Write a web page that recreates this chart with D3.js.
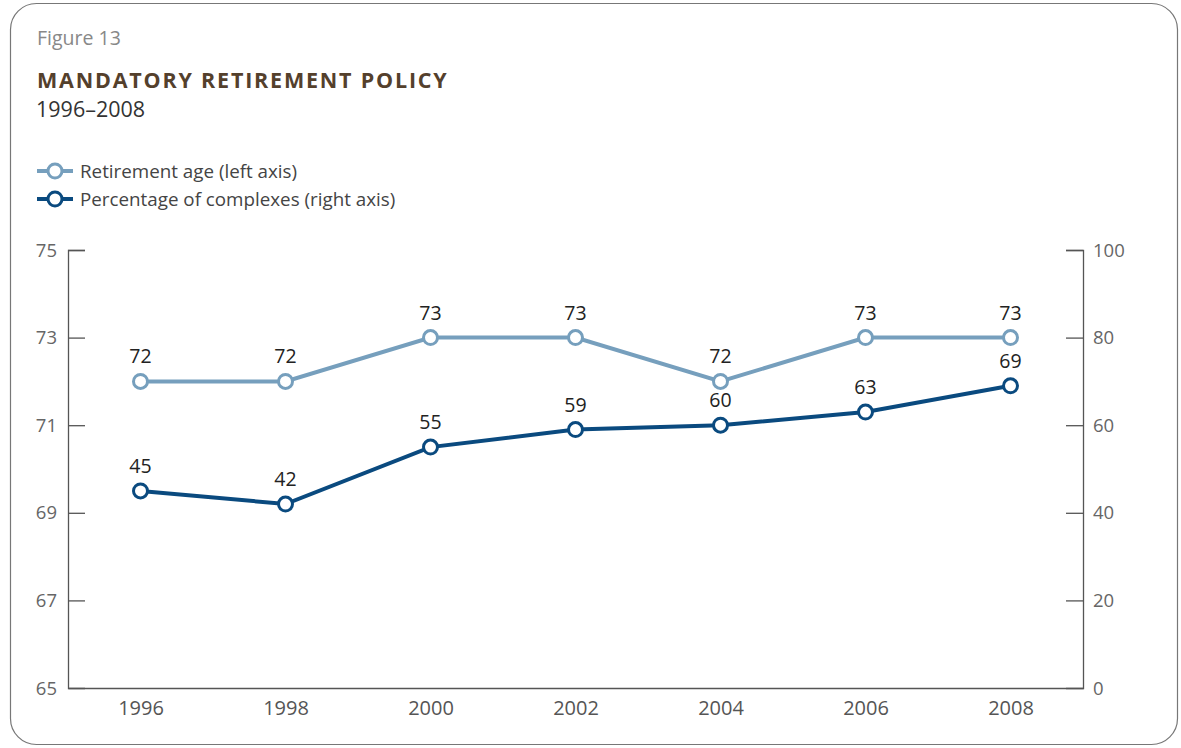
<!DOCTYPE html>
<html><head><meta charset="utf-8">
<script src="https://cdn.jsdelivr.net/npm/d3@7"></script>
<style>
body{margin:0;background:#fff;}
svg{display:block;font-family:"Open Sans",sans-serif;}
</style></head><body>
<svg id="chart" width="1181" height="748"></svg>
<script>
const years = ["1996","1998","2000","2002","2004","2006","2008"];
const retirementAge = [72,72,73,73,72,73,73];
const pctComplexes = [45,42,55,59,60,63,69];
const leftTicks = [65,67,69,71,73,75];
const rightTicks = [0,20,40,60,80,100];

const svg = d3.select("#chart");
const lightC = "#769fbd", darkC = "#0a4a7f";

svg.append("rect").attr("x",10.5).attr("y",3.5).attr("width",1167).attr("height",741)
  .attr("rx",26).attr("fill","none").attr("stroke","#777").attr("stroke-width",1.2);

svg.append("text").attr("x",37).attr("y",45).text("Figure 13")
  .attr("font-size",19.5).attr("fill","#888");
svg.append("text").attr("x",37).attr("y",88).text("MANDATORY RETIREMENT POLICY")
  .attr("font-size",21.5).attr("font-weight",700).attr("letter-spacing",1.8).attr("fill","#54402c");
svg.append("text").attr("x",36).attr("y",117).text("1996–2008")
  .attr("font-size",21.5).attr("fill","#333");

const legend = [{t:"Retirement age (left axis)",c:lightC,y:171},{t:"Percentage of complexes (right axis)",c:darkC,y:199}];
legend.forEach(l=>{
  svg.append("line").attr("x1",37).attr("x2",73).attr("y1",l.y).attr("y2",l.y).attr("stroke",l.c).attr("stroke-width",4);
  svg.append("circle").attr("cx",55).attr("cy",l.y).attr("r",7).attr("fill","#fff").attr("stroke",l.c).attr("stroke-width",3);
  svg.append("text").attr("x",80).attr("y",l.y+6.5).text(l.t).attr("font-size",18.8).attr("fill","#444");
});

const x0=68, x1=1083, yTop=250, yBot=688;
const x = d3.scalePoint().domain(years).range([x0,x1]).padding(0.5);
const yL = d3.scaleLinear().domain([65,75]).range([yBot,yTop]);
const yR = d3.scaleLinear().domain([0,100]).range([yBot,yTop]);

const axisColor="#555";
const gL = svg.append("g").attr("transform",`translate(${x0},0)`)
  .call(d3.axisRight(yL).tickValues(leftTicks).tickSize(17).tickFormat(""));
const gR = svg.append("g").attr("transform",`translate(${x1},0)`)
  .call(d3.axisLeft(yR).tickValues(rightTicks).tickSize(17).tickFormat(""));
[gL,gR].forEach(g=>{g.select(".domain").attr("stroke",axisColor).attr("stroke-width",1.3);
  g.selectAll(".tick line").attr("stroke",axisColor).attr("stroke-width",1.3);});
gL.selectAll(".tick").filter(d=>d===65).remove();
gR.selectAll(".tick").filter(d=>d===0).remove();

svg.selectAll(".lt").data(leftTicks).join("text").attr("class","lt")
  .attr("x",57).attr("y",d=>yL(d)+6.5).attr("text-anchor","end").attr("font-size",18.5).attr("fill","#666").text(d=>d);
svg.selectAll(".rt").data(rightTicks).join("text").attr("class","rt")
  .attr("x",1093).attr("y",d=>yR(d)+6.5).attr("text-anchor","start").attr("font-size",18.5).attr("fill","#666").text(d=>d);

const gX = svg.append("g").attr("transform",`translate(0,${yBot})`)
  .call(d3.axisBottom(x).tickSize(0).tickPadding(13));
gX.select(".domain").attr("stroke",axisColor).attr("stroke-width",1.3);
gX.selectAll("text").attr("font-size",20).attr("fill","#555").attr("font-family","Open Sans");

function series(vals, y, c){
  const data = years.map((yr,i)=>({yr,v:vals[i]}));
  svg.append("path").datum(data).attr("fill","none").attr("stroke",c).attr("stroke-width",4)
    .attr("d",d3.line().x(d=>x(d.yr)).y(d=>y(d.v)));
  svg.append("g").selectAll("circle").data(data).join("circle")
    .attr("cx",d=>x(d.yr)).attr("cy",d=>y(d.v)).attr("r",7).attr("fill","#fff").attr("stroke",c).attr("stroke-width",3);
  svg.append("g").selectAll("text").data(data).join("text")
    .attr("x",d=>x(d.yr)).attr("y",d=>y(d.v)-18).attr("text-anchor","middle")
    .attr("font-size",19.5).attr("fill","#222").text(d=>d.v);
}
series(retirementAge, yL, lightC);
series(pctComplexes, yR, darkC);
</script></body></html>
